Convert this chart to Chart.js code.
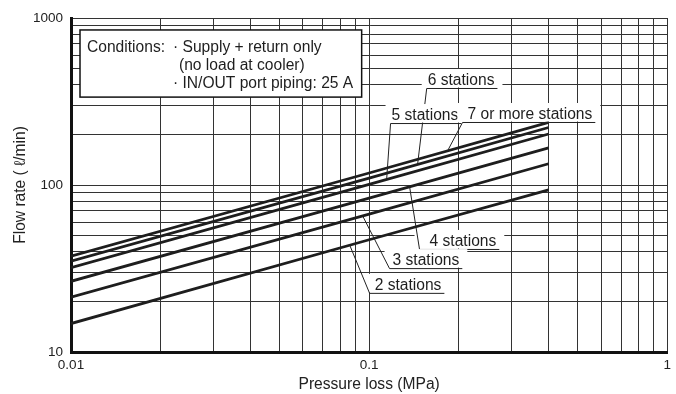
<!DOCTYPE html>
<html>
<head>
<meta charset="utf-8">
<script src="https://cdn.jsdelivr.net/npm/chart.js@4.4.1/dist/chart.umd.min.js"></script>
<style>
  html, body { margin: 0; padding: 0; background: #fff; }
  canvas { display: block; }
</style>
</head>
<body>
<canvas id="chart" width="676" height="394"></canvas>
<script>
// Pressure loss (MPa) at which each curve is sampled
const pressure = [0.01, 0.1, 0.4];

// Flow rate (l/min) for each number of stations
const flow2 = [14.8, 47, 93.5];
const flow3 = [21.3, 67, 134];
const flow4 = [26.5, 83.5, 167];
const flow5 = [32, 101, 202];
const flow6 = [35, 110, 221];
const flow7 = [37.5, 118, 237];

const seriesNames = ['2 stations', '3 stations', '4 stations', '5 stations', '6 stations', '7 or more stations'];
const seriesFlows = [flow2, flow3, flow4, flow5, flow6, flow7];

// Log grid positions and the labelled decades
const xTicks = [0.01, 0.02, 0.03, 0.04, 0.05, 0.06, 0.07, 0.08, 0.09,
                0.1, 0.2, 0.3, 0.4, 0.5, 0.6, 0.7, 0.8, 0.9, 1];
const yTicks = [10, 20, 30, 40, 50, 60, 70, 80, 90,
                100, 200, 300, 400, 500, 600, 700, 800, 900, 1000];
const xLabelValues = [0.01, 0.1, 1];
const xLabelText = ['0.01', '0.1', '1'];
const yLabelValues = [10, 100, 1000];
const yLabelText = ['10', '100', '1000'];

// Conditions note
const conditionLines = [
  { text: 'Conditions:', dx: 7, row: 0 },
  { text: '\u00B7 Supply + return only', dx: 93, row: 0 },
  { text: '(no load at cooler)', dx: 99, row: 1 },
  { text: '\u00B7 IN/OUT port piping: 25 A', dx: 93, row: 2 }
];
const noteBoxP = [0.01072, 0.0944];
const noteBoxQ = [848, 336];

// Curve callouts: underline start (P, Q), text inset, curve and point the leader reaches
const callouts = [
  { series: 4, at: [0.156, 381], inset: 1, target: 0.1454 },
  { series: 3, at: [0.118, 235], inset: 1, target: 0.1145 },
  { series: 5, at: [0.2057, 238.4], inset: 5, target: 0.1833 },
  { series: 2, at: [0.1476, 41.4], inset: 10, target: 0.1367 },
  { series: 1, at: [0.1171, 31.8], inset: 3, target: 0.0951 },
  { series: 0, at: [0.1004, 22.6], inset: 5, target: 0.0861 }
];

const FONT = '"Liberation Sans", Arial, Helvetica, sans-serif';
const INK = '#1e1e1e';

// Flow on a curve at pressure p (straight segments in log-log space)
function flowAt(flows, p) {
  const lp = Math.log10(p);
  for (let i = 0; i < pressure.length - 1; i++) {
    const a = Math.log10(pressure[i]), b = Math.log10(pressure[i + 1]);
    if (lp <= b || i === pressure.length - 2) {
      const t = (lp - a) / (b - a);
      const fa = Math.log10(flows[i]), fb = Math.log10(flows[i + 1]);
      return Math.pow(10, fa + t * (fb - fa));
    }
  }
}

function labelFor(values, texts, v) {
  const i = values.findIndex(w => Math.abs(w - v) < w * 1e-6);
  return i >= 0 ? texts[i] : '';
}

const annotations = {
  id: 'annotations',
  afterDatasetsDraw(chart) {
    const { ctx, scales: { x, y } } = chart;
    ctx.save();

    // Conditions box
    const bx0 = x.getPixelForValue(noteBoxP[0]);
    const bx1 = x.getPixelForValue(noteBoxP[1]);
    const by0 = y.getPixelForValue(noteBoxQ[0]);
    const by1 = y.getPixelForValue(noteBoxQ[1]);
    ctx.fillStyle = '#fff';
    ctx.fillRect(bx0, by0, bx1 - bx0, by1 - by0);
    ctx.strokeStyle = '#111';
    ctx.lineWidth = 1.5;
    ctx.strokeRect(bx0, by0, bx1 - bx0, by1 - by0);
    ctx.font = '15.6px ' + FONT;
    ctx.fillStyle = INK;
    ctx.textBaseline = 'alphabetic';
    ctx.textAlign = 'left';
    conditionLines.forEach(l => {
      ctx.fillText(l.text, bx0 + l.dx, by0 + 22 + 18 * l.row);
    });

    // Callouts with underline and leader line
    callouts.forEach(c => {
      const text = seriesNames[c.series];
      const ux = x.getPixelForValue(c.at[0]);
      const uy = y.getPixelForValue(c.at[1]);
      const w = ctx.measureText(text).width;
      const ux1 = ux + c.inset + w + 3;
      ctx.fillStyle = '#fff';
      ctx.fillRect(ux - 5, uy - 19, ux1 - ux + 10, 18.5);
      ctx.fillStyle = INK;
      ctx.fillText(text, ux + c.inset, uy - 3);
      const tx = x.getPixelForValue(c.target);
      const ty = y.getPixelForValue(flowAt(seriesFlows[c.series], c.target));
      ctx.strokeStyle = '#222';
      ctx.lineWidth = 1;
      ctx.beginPath();
      ctx.moveTo(ux1, uy + 0.5);
      ctx.lineTo(ux, uy + 0.5);
      ctx.lineTo(tx, ty);
      ctx.stroke();
    });
    ctx.restore();
  }
};

const datasets = seriesFlows.map((flows, i) => ({
  label: seriesNames[i],
  data: pressure.map((p, j) => ({ x: p, y: flows[j] })),
  borderColor: INK,
  borderWidth: 2.8,
  pointRadius: 0,
  tension: 0,
  fill: false
}));

new Chart(document.getElementById('chart'), {
  type: 'line',
  data: { datasets },
  plugins: [annotations],
  options: {
    responsive: false,
    animation: false,
    devicePixelRatio: 1,
    layout: { padding: { left: 0, right: 8, top: 18, bottom: 0 } },
    plugins: { legend: { display: false }, tooltip: { enabled: false } },
    scales: {
      x: {
        type: 'logarithmic',
        min: 0.01,
        max: 1,
        afterBuildTicks: s => { s.ticks = xTicks.map(v => ({ value: v })); },
        afterFit: s => { s.height = 42; },
        grid: { color: '#333', lineWidth: 1, drawTicks: false },
        border: { color: '#111', width: 3 },
        ticks: {
          autoSkip: false, maxRotation: 0, padding: 5,
          color: '#222', font: { family: FONT, size: 13.5 },
          callback: v => labelFor(xLabelValues, xLabelText, v)
        },
        title: {
          display: true, text: 'Pressure loss (MPa)', color: '#222',
          font: { family: FONT, size: 15.6 }, padding: { top: 0, bottom: 0 }
        }
      },
      y: {
        type: 'logarithmic',
        min: 10,
        max: 1000,
        afterBuildTicks: s => { s.ticks = yTicks.map(v => ({ value: v })); },
        afterFit: s => { s.width = 71; },
        grid: { color: '#333', lineWidth: 1, drawTicks: false },
        border: { color: '#111', width: 3 },
        ticks: {
          autoSkip: false, padding: 8,
          color: '#222', font: { family: FONT, size: 13.5 },
          callback: v => labelFor(yLabelValues, yLabelText, v)
        },
        title: {
          display: true, text: 'Flow rate ( \u2113/min)', color: '#222',
          font: { family: FONT, size: 15.6 }, padding: { top: 11, bottom: 0 }
        }
      }
    }
  }
});
</script>
</body>
</html>
